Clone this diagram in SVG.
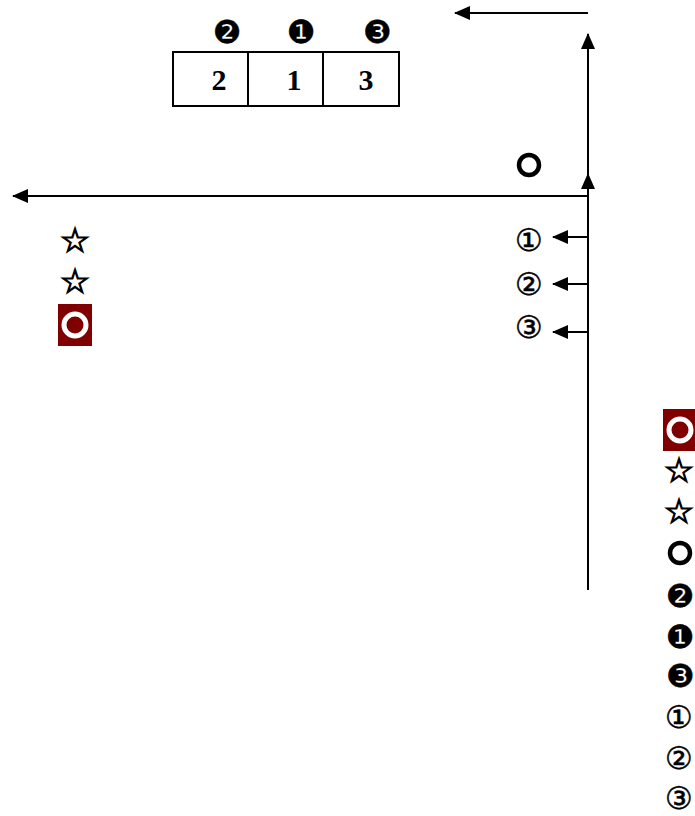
<svg xmlns="http://www.w3.org/2000/svg" width="695" height="816" viewBox="0 0 695 816">
<style>
.ln{stroke:#000;stroke-width:2;fill:none}
.num{font-family:"Liberation Serif",serif;font-weight:bold;font-size:30px;text-anchor:middle;fill:#000}
.sym{font-family:"DejaVu Sans","Noto Sans CJK JP",sans-serif;font-size:32px;text-anchor:middle;dominant-baseline:central;fill:#000;stroke:#000;stroke-width:0.4}
.cn{font-family:"DejaVu Sans","Noto Sans CJK JP",sans-serif;font-size:31px;text-anchor:middle;dominant-baseline:central;fill:#000;stroke:#000;stroke-width:0.5}
.star{font-family:"DejaVu Sans","Noto Sans CJK JP",sans-serif;font-size:34px;text-anchor:middle;dominant-baseline:central;fill:#000;stroke:#000;stroke-width:1.2}
.ring{fill:none;stroke:#000;stroke-width:4.5}
.wring{fill:none;stroke:#fff;stroke-width:5}
.box{fill:#800000}
</style>
<defs>
<marker id="ah" markerWidth="16" markerHeight="14" refX="15" refY="7" orient="auto" markerUnits="userSpaceOnUse">
<path d="M0,0 L16,7 L0,14 Z" fill="#000"/>
</marker>
</defs>
<g id="connectors">
<line class="ln" x1="588" y1="13" x2="455" y2="13" marker-end="url(#ah)"/>
<line class="ln" x1="588" y1="590" x2="588" y2="174" marker-end="url(#ah)"/>
<line class="ln" x1="588" y1="174" x2="588" y2="34" marker-end="url(#ah)"/>
<line class="ln" x1="588" y1="196" x2="13" y2="196" marker-end="url(#ah)"/>
<line class="ln" x1="588" y1="237" x2="553" y2="237" marker-end="url(#ah)"/>
<line class="ln" x1="588" y1="284" x2="553" y2="284" marker-end="url(#ah)"/>
<line class="ln" x1="588" y1="332" x2="553" y2="332" marker-end="url(#ah)"/>
</g>
<g id="table">
<rect x="173" y="52" width="226" height="54" class="ln"/>
<line class="ln" x1="248" y1="52" x2="248" y2="106"/>
<line class="ln" x1="323" y1="52" x2="323" y2="106"/>
<text class="num" x="219" y="90">2</text>
<text class="num" x="294" y="90">1</text>
<text class="num" x="366" y="90">3</text>
</g>
<g id="top-labels">
<text class="sym" x="227" y="32">❷</text>
<text class="sym" x="301" y="32">❶</text>
<text class="sym" x="377" y="32">❸</text>
</g>
<g id="ring-top"><circle class="ring" cx="529" cy="165" r="10"/></g>
<g id="mid-labels">
<text class="cn" x="529" y="240">①</text>
<text class="cn" x="529" y="284">②</text>
<text class="cn" x="529" y="327">③</text>
</g>
<g id="left-column">
<text class="star" x="75" y="240">☆</text>
<text class="star" x="75" y="281">☆</text>
<rect class="box" x="58" y="304" width="34" height="42"/>
<circle class="wring" cx="75" cy="325" r="11"/>
</g>
<g id="right-column">
<rect class="box" x="663" y="409" width="32" height="42"/>
<circle class="wring" cx="680" cy="430" r="11"/>
<text class="star" x="679" y="470">☆</text>
<text class="star" x="679" y="511">☆</text>
<circle class="ring" cx="680" cy="553" r="10"/>
<text class="sym" x="680" y="596">❷</text>
<text class="sym" x="680" y="637">❶</text>
<text class="sym" x="680" y="676">❸</text>
<text class="cn" x="679" y="717">①</text>
<text class="cn" x="679" y="758">②</text>
<text class="cn" x="679" y="798">③</text>
</g>
</svg>
